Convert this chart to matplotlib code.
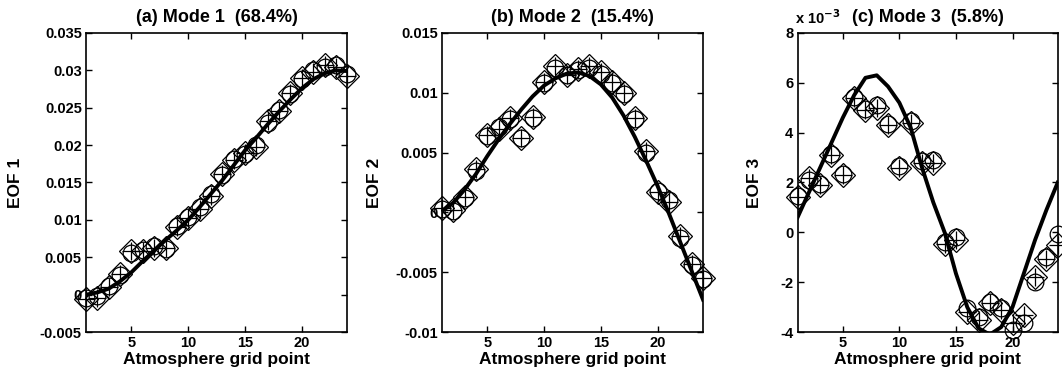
import numpy as np
import matplotlib
matplotlib.use('Agg')
import matplotlib.pyplot as plt

plt.rcParams['font.family'] = 'Liberation Sans'
plt.rcParams['font.weight'] = 'bold'

x = np.arange(1, 25)

# Mode 1
eof1_line = [0.0, 0.0003, 0.0008, 0.0018, 0.003, 0.0045, 0.0059, 0.0073, 0.0086, 0.0100, 0.0117, 0.0135,
             0.0153, 0.0173, 0.0193, 0.021, 0.0228, 0.0245, 0.0261, 0.0276, 0.0288, 0.0296, 0.03, 0.0299]
eof1_diam = [-0.0006, -0.0004, 0.001, 0.0028, 0.0058, 0.0058, 0.0063, 0.0063, 0.009, 0.0102, 0.0115, 0.0132,
             0.0162, 0.018, 0.019, 0.0198, 0.0232, 0.0245, 0.027, 0.029, 0.0298, 0.0307, 0.0305, 0.0293]
eof1_circ = [-0.0004, -0.0002, 0.0011, 0.0026, 0.0056, 0.006, 0.0065, 0.0061, 0.0092, 0.0104, 0.0117, 0.0134,
             0.016, 0.0182, 0.0188, 0.02, 0.023, 0.0247, 0.0268, 0.0288, 0.03, 0.0305, 0.0307, 0.0295]

# Mode 2
eof2_line = [0.0001, 0.0008, 0.0019, 0.0032, 0.0047, 0.0061, 0.0074, 0.0086, 0.0097, 0.0106, 0.0112, 0.0116,
             0.0117, 0.0114, 0.0107, 0.0096, 0.0081, 0.0063, 0.0043, 0.0022, -0.0001, -0.0025, -0.0049, -0.0073]
eof2_diam = [0.0004, 0.0002, 0.0013, 0.0036, 0.0065, 0.0070, 0.0079, 0.0062, 0.0080, 0.0109, 0.0122, 0.0115,
             0.0120, 0.0122, 0.0117, 0.0109, 0.0100, 0.0079, 0.0051, 0.0017, 0.0009, -0.0020, -0.0043, -0.0055]
eof2_circ = [0.0003, 0.0001, 0.0012, 0.0035, 0.0064, 0.0071, 0.0078, 0.0062, 0.0079, 0.0108, 0.0121, 0.0115,
             0.0119, 0.0121, 0.0116, 0.0108, 0.0099, 0.0078, 0.0050, 0.0018, 0.0010, -0.0021, -0.0044, -0.0056]

# Mode 3 (units of 1e-3)
eof3_line = [0.6, 1.6, 2.6, 3.6, 4.6, 5.5, 6.2, 6.3, 5.85, 5.2, 4.2, 2.6,
             1.2, 0.0, -1.65, -3.0, -3.85, -4.1, -3.8, -3.0, -1.65, -0.3, 0.9, 2.0]
eof3_diam = [1.43, 2.2, 1.9, 3.1, 2.3, 5.4, 4.9, 5.0, 4.3, 2.6, 4.4, 2.8,
             2.8, -0.45, -0.3, -3.2, -3.5, -2.85, -3.1, -3.65, -3.3, -1.8, -1.05, -0.5]
eof3_circ = [1.45, 2.1, 1.95, 3.15, 2.35, 5.45, 4.95, 5.1, 4.35, 2.65, 4.45, 2.85,
             2.9, -0.4, -0.2, -3.05, -3.4, -2.8, -3.05, -3.9, -3.65, -2.0, -1.0, -0.05]

panels = [
    dict(line=eof1_line, diam=eof1_diam, circ=eof1_circ, title='(a) Mode 1  (68.4%)', ylabel='EOF 1',
         ylim=(-0.005, 0.035), yticks=[-0.005, 0, 0.005, 0.01, 0.015, 0.02, 0.025, 0.03, 0.035],
         ylabels=['-0.005', '0', '0.005', '0.01', '0.015', '0.02', '0.025', '0.03', '0.035'],
         rect=[0.081, 0.133, 0.246, 0.781], ylx=-0.24),
    dict(line=eof2_line, diam=eof2_diam, circ=eof2_circ, title='(b) Mode 2  (15.4%)', ylabel='EOF 2',
         ylim=(-0.01, 0.015), yticks=[-0.01, -0.005, 0, 0.005, 0.01, 0.015],
         ylabels=['-0.01', '-0.005', '0', '0.005', '0.01', '0.015'],
         rect=[0.416, 0.133, 0.246, 0.781], ylx=-0.23),
    dict(line=eof3_line, diam=eof3_diam, circ=eof3_circ, title='(c) Mode 3  (5.8%)', ylabel='EOF 3',
         ylim=(-4, 8), yticks=[-4, -2, 0, 2, 4, 6, 8],
         ylabels=['-4', '-2', '0', '2', '4', '6', '8'],
         rect=[0.751, 0.133, 0.245, 0.781], ylx=-0.138),
]

fig = plt.figure(figsize=(10.62, 3.83), dpi=100)

for p in panels:
    ax = fig.add_axes(p['rect'])
    ax.plot(x, p['circ'], linestyle='none', marker='o', markersize=12, markerfacecolor='none',
            markeredgecolor='black', markeredgewidth=0.9, clip_on=False)
    ax.plot(x, p['diam'], linestyle='none', marker='D', markersize=12, markerfacecolor='none',
            markeredgecolor='black', markeredgewidth=0.9, clip_on=False)
    ax.plot(x, p['diam'], linestyle='none', marker='+', markersize=13,
            markeredgecolor='black', markeredgewidth=0.9, clip_on=False)
    ax.plot(x, p['line'], color='black', linewidth=2.8)
    ax.set_xlim(1, 24)
    ax.set_ylim(*p['ylim'])
    ax.set_xticks([5, 10, 15, 20])
    ax.set_yticks(p['yticks'])
    ax.set_yticklabels(p['ylabels'])
    ax.tick_params(direction='in', top=True, right=True, length=4, width=1, labelsize=10.5, pad=3)
    for lab in ax.get_xticklabels() + ax.get_yticklabels():
        lab.set_fontweight('bold')
    for s in ax.spines.values():
        s.set_linewidth(1.2)
    ax.set_title(p['title'], fontsize=13, fontweight='bold', pad=8)
    ax.set_xlabel('Atmosphere grid point', fontsize=12.5, fontweight='bold', labelpad=1)
    ax.set_ylabel(p['ylabel'], fontsize=12.5, fontweight='bold')
    ax.yaxis.set_label_coords(p['ylx'], 0.5)

ax3 = fig.axes[2]
ax3.text(-0.01, 1.02, r'x 10$^{-3}$', transform=ax3.transAxes, fontsize=10.5, fontweight='bold',
         ha='left', va='bottom')

fig.savefig('out.png', dpi=100)
plt.close(fig)
